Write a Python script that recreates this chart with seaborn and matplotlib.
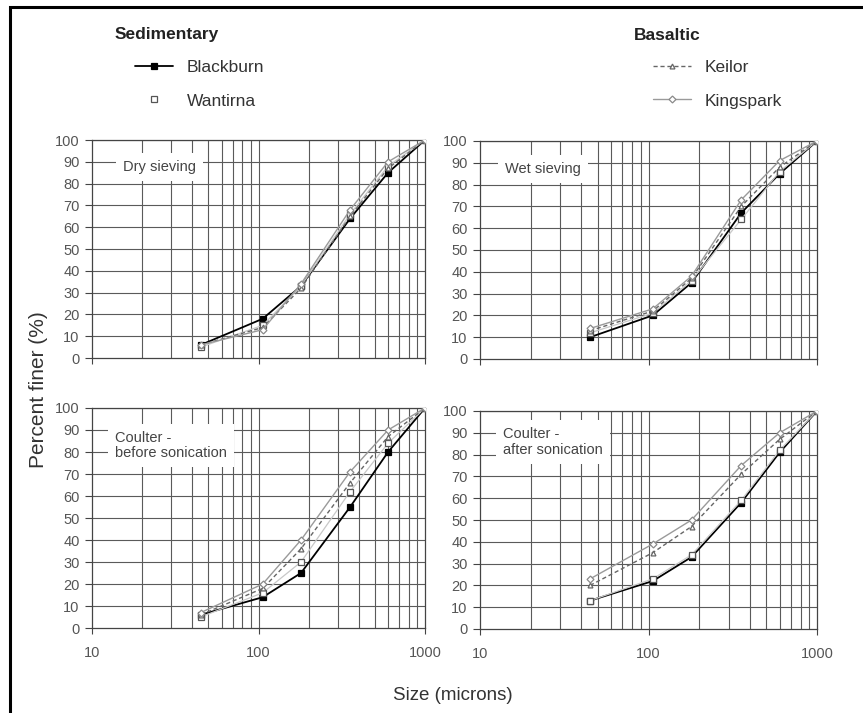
import pandas as pd
import seaborn as sns
import matplotlib.pyplot as plt
from matplotlib.lines import Line2D
from matplotlib.patches import Rectangle

# sieve sizes (microns)
sizes = [45, 106, 180, 355, 600, 1000]
soils = ['Blackburn', 'Wantirna', 'Keilor', 'Kingspark']
panels = ['Dry sieving', 'Wet sieving', 'Coulter -\nbefore sonication', 'Coulter -\nafter sonication']

# percent finer, one list per soil and panel
dry_blackburn = [6, 18, 33, 64, 85, 100]
dry_wantirna = [5, 15, 33, 66, 88, 100]
dry_keilor = [6, 14, 32, 65, 87, 100]
dry_kingspark = [6, 13, 34, 68, 90, 100]

wet_blackburn = [10, 20, 35, 67, 85, 100]
wet_wantirna = [12, 21, 36, 64, 86, 100]
wet_keilor = [13, 22, 37, 70, 88, 100]
wet_kingspark = [14, 23, 38, 73, 91, 100]

before_blackburn = [6, 14, 25, 55, 80, 100]
before_wantirna = [5, 16, 30, 62, 84, 100]
before_keilor = [6, 18, 36, 66, 87, 100]
before_kingspark = [7, 20, 40, 71, 90, 100]

after_blackburn = [13, 22, 33, 58, 81, 100]
after_wantirna = [13, 23, 34, 59, 82, 100]
after_keilor = [20, 35, 47, 71, 87, 100]
after_kingspark = [23, 39, 50, 75, 90, 100]

values = {
    panels[0]: [dry_blackburn, dry_wantirna, dry_keilor, dry_kingspark],
    panels[1]: [wet_blackburn, wet_wantirna, wet_keilor, wet_kingspark],
    panels[2]: [before_blackburn, before_wantirna, before_keilor, before_kingspark],
    panels[3]: [after_blackburn, after_wantirna, after_keilor, after_kingspark],
}

rows = []
for p in panels:
    for soil, ys in zip(soils, values[p]):
        for s, y in zip(sizes, ys):
            rows.append({'panel': p, 'soil': soil, 'size': s, 'finer': y})
df = pd.DataFrame(rows)

styles = {
    'Blackburn': dict(color='black', lw=1.3, ls='-', marker='s', ms=4.5, mfc='black', mec='black'),
    'Wantirna': dict(color='#c8c8c8', lw=0.9, ls='-', marker='s', ms=4.5, mfc='white', mec='#555555'),
    'Keilor': dict(color='#666666', lw=1.0, ls=(0, (3, 2)), marker='^', ms=3.5, mfc='white', mec='#666666'),
    'Kingspark': dict(color='#9a9a9a', lw=1.0, ls='-', marker='D', ms=3.5, mfc='white', mec='#8a8a8a'),
}

sns.set_style('white')
plt.rcParams['font.family'] = ['Liberation Sans', 'DejaVu Sans']

fig = plt.figure(figsize=(8.63, 7.13), dpi=100)
W, H = 863, 713

# axes boxes in pixels: left, right, top, bottom
boxes = [(92, 425, 140, 358), (480, 817, 141, 359), (92, 425, 408, 628), (480, 817, 411, 629)]
text_pos = [(0.093, 0.876), (0.074, 0.872), (0.069, 0.83), (0.068, 0.858)]

grid_x = [20, 30, 40, 50, 60, 70, 80, 90, 100, 200, 300, 400, 500, 600, 700, 800, 900]

for i, p in enumerate(panels):
    l, r, t, b = boxes[i]
    ax = fig.add_axes([l / W, 1 - b / H, (r - l) / W, (b - t) / H])
    ax.set_xscale('log')
    ax.set_xlim(10, 1000)
    ax.set_ylim(0, 100)
    for gx in grid_x:
        ax.axvline(gx, color='#5a5a5a', lw=0.8, zorder=0)
    for gy in range(10, 101, 10):
        ax.axhline(gy, color='#5a5a5a', lw=0.8, zorder=0)
    sub = df[df['panel'] == p]
    for soil in soils:
        st = styles[soil]
        sns.lineplot(data=sub[sub['soil'] == soil], x='size', y='finer', ax=ax,
                     color=st['color'], linewidth=st['lw'], linestyle=st['ls'],
                     marker=st['marker'], markersize=st['ms'], markerfacecolor=st['mfc'],
                     markeredgecolor=st['mec'], markeredgewidth=0.9, errorbar=None,
                     legend=False, zorder=3)
    ax.text(text_pos[i][0], text_pos[i][1], p, transform=ax.transAxes, fontsize=10.5,
            color='#444444', va='center', ha='left', linespacing=1.15,
            bbox=dict(facecolor='white', edgecolor='none', pad=5), zorder=4)
    ax.set_yticks(range(0, 101, 10))
    ax.set_xticks([10, 100, 1000])
    ax.set_xticks([], minor=True)
    ax.tick_params(axis='y', labelsize=10.5, labelcolor='#555555', length=5, width=0.8,
                   color='#444444', pad=4, left=True)
    ax.tick_params(axis='x', labelsize=10.5, labelcolor='#555555', length=4, width=0.8,
                   color='#444444', pad=9, bottom=True)
    ax.set_xticklabels(['10', '100', '1000'] if i >= 2 else [])
    ax.set_xlabel('')
    ax.set_ylabel('')
    for sp in ax.spines.values():
        sp.set_color('#444444')
        sp.set_linewidth(0.9)

fig.text(39 / W, 1 - 390 / H, 'Percent finer (%)', rotation=90, ha='center', va='center',
         fontsize=15, color='#333333')
fig.text(453 / W, 1 - 695 / H, 'Size (microns)', ha='center', va='center',
         fontsize=13.5, color='#333333')

def handle(soil, legend_only=False):
    st = styles[soil]
    ls = 'None' if (legend_only and soil == 'Wantirna') else st['ls']
    return Line2D([], [], color=st['color'], lw=st['lw'], ls=ls, marker=st['marker'],
                  ms=st['ms'], mfc=st['mfc'], mec=st['mec'], mew=0.9)

for title, names, tx, lx in [('Sedimentary', soils[:2], 115, 135), ('Basaltic', soils[2:], 634, 653)]:
    fig.text(tx / W, 1 - 35 / H, title, ha='left', va='center', fontsize=12.5,
             fontweight='bold', color='#222222')
    leg = fig.legend([handle(n, True) for n in names], names, loc='upper left',
                     bbox_to_anchor=(lx / W, 1 - 60 / H), frameon=False, fontsize=12.5,
                     borderpad=0, labelspacing=1.05, handlelength=2.2, handletextpad=0.8,
                     borderaxespad=0)
    for txt in leg.get_texts():
        txt.set_color('#333333')

fig.patches.append(Rectangle((10 / W, -0.01), 1.1, 1 - 7 / H + 0.01, transform=fig.transFigure,
                             fill=False, edgecolor='black', lw=2.2))

fig.savefig('out.png', dpi=100)
